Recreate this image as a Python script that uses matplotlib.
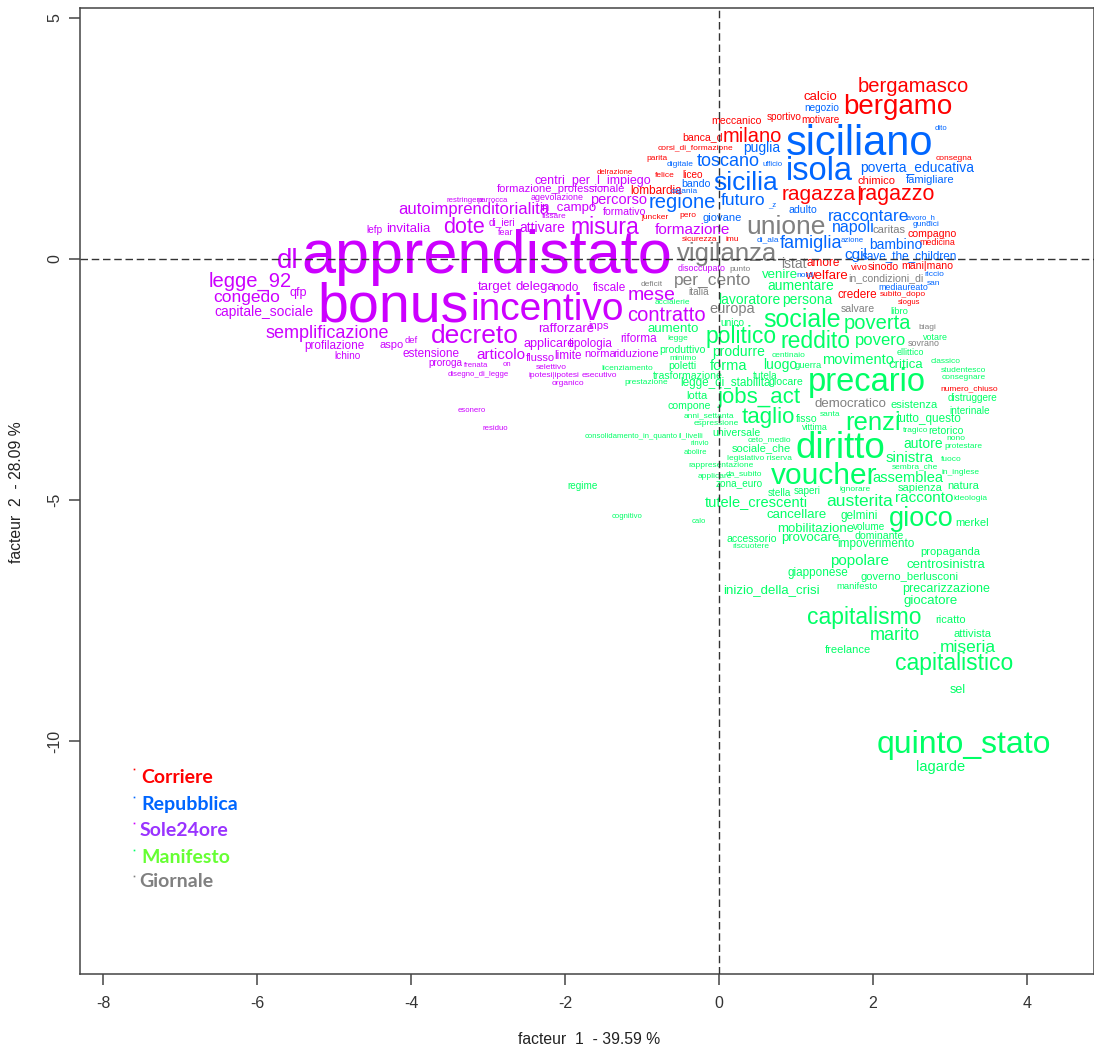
import matplotlib
matplotlib.use("Agg")
import matplotlib.pyplot as plt

plt.rcParams["font.family"] = ["Liberation Sans", "DejaVu Sans"]
plt.rcParams["axes.unicode_minus"] = False

# word, factor 1, factor 2, weight
corriere = [
    ("bergamasco", 2.52, 3.57, 14.5), ("bergamo", 2.32, 3.15, 20), ("calcio", 1.32, 3.36, 9.5),
    ("meccanico", 0.23, 2.86, 7.5), ("sportivo", 0.84, 2.95, 7), ("motivare", 1.32, 2.88, 7),
    ("banca_d", -0.21, 2.53, 7.5), ("milano", 0.43, 2.53, 14.5), ("corsi_di_formazione", -0.31, 2.30, 5.5),
    ("parita", -0.81, 2.07, 5.5), ("delrazione", -1.36, 1.78, 5), ("felice", -0.71, 1.72, 5.5),
    ("liceo", -0.34, 1.74, 7), ("lombardia", -0.82, 1.41, 8.5), ("juncker", -0.83, 0.85, 5.5),
    ("pero", -0.40, 0.89, 5.5), ("sicurezza", -0.25, 0.39, 5.5), ("imu", 0.17, 0.39, 5.5),
    ("consegna", 3.05, 2.07, 5.5), ("chimico", 2.05, 1.62, 8), ("ragazza", 1.29, 1.33, 15),
    ("|", 1.81, 1.31, 15), ("ragazzo", 2.31, 1.33, 15.5), ("compagno", 2.77, 0.52, 7.5),
    ("medicina", 2.83, 0.33, 6), ("amore", 1.35, -0.08, 8.5), ("welfare", 1.39, -0.35, 9.5),
    ("vivo", 1.82, -0.19, 6.5), ("sinodo", 2.13, -0.17, 7.5), ("mani|mano", 2.71, -0.15, 7.5),
    ("credere", 1.79, -0.75, 8.5), ("subito_dopo", 2.39, -0.75, 5.5), ("slogus", 2.47, -0.91, 5),
    ("numero_chiuso", 3.25, -2.70, 5.5),
]

repubblica = [
    ("siciliano", 1.83, 2.39, 30), ("isola", 1.30, 1.80, 23.5), ("sicilia", 0.34, 1.58, 19),
    ("toscano", 0.12, 2.01, 13), ("puglia", 0.56, 2.30, 10), ("ufficio", 0.70, 1.95, 5),
    ("digitale", -0.51, 1.95, 5.5), ("negozio", 1.34, 3.13, 7), ("dito", 2.88, 2.70, 5),
    ("poverta_educativa", 2.57, 1.89, 10), ("famigliare", 2.74, 1.64, 8), ("bando", -0.30, 1.56, 7.5),
    ("catania", -0.45, 1.39, 5.5), ("regione", -0.48, 1.16, 14.5), ("futuro", 0.31, 1.20, 12.5),
    ("_z", 0.69, 1.12, 5), ("giovane", 0.04, 0.85, 8), ("adulto", 1.09, 1.02, 7.5),
    ("raccontare", 1.94, 0.87, 12.3), ("napoli", 1.75, 0.64, 11.5), ("famiglia", 1.19, 0.31, 13),
    ("bambino", 2.29, 0.29, 10), ("azione", 1.73, 0.37, 5), ("di_ala", 0.64, 0.39, 5.5),
    ("lavoro_h", 2.62, 0.85, 5), ("gundici", 2.69, 0.71, 5.5), ("cgil", 1.78, 0.08, 11),
    ("save_the_children", 2.47, 0.06, 8.5), ("nord", 1.12, -0.35, 5.5), ("riccio", 2.79, -0.33, 5.5),
    ("san", 2.78, -0.52, 5.5), ("mediaureato", 2.40, -0.60, 6),
]

sole24ore = [
    ("apprendistato", -3.01, 0.02, 44), ("bonus", -4.23, -1.00, 40), ("incentivo", -2.23, -1.06, 28),
    ("dl", -5.60, -0.04, 20), ("decreto", -3.17, -1.60, 19), ("dote", -3.31, 0.64, 15.5),
    ("misura", -1.49, 0.64, 16.5), ("legge_92", -6.09, -0.46, 14.5), ("congedo", -6.13, -0.81, 12.5),
    ("capitale_sociale", -5.91, -1.10, 10), ("qfp", -5.47, -0.71, 9), ("semplificazione", -5.09, -1.54, 13),
    ("profilazione", -4.99, -1.80, 8.5), ("lchino", -4.83, -2.01, 7), ("aspo", -4.25, -1.78, 8),
    ("def", -4.00, -1.70, 6.5), ("estensione", -3.74, -1.97, 8.5), ("proroga", -3.55, -2.16, 7),
    ("frenata", -3.16, -2.22, 5), ("disegno_di_legge", -3.13, -2.39, 5), ("on", -2.75, -2.20, 5),
    ("articolo", -2.84, -1.99, 11), ("autoimprenditorialita", -3.19, 1.02, 12), ("invitalia", -4.04, 0.62, 9.5),
    ("lefp", -4.47, 0.60, 7), ("restringere", -3.29, 1.20, 5), ("parrocca", -2.94, 1.20, 5),
    ("centri_per_l_impiego", -1.64, 1.62, 9), ("formazione_professionale", -2.05, 1.45, 8),
    ("agevolazione", -2.10, 1.27, 6), ("percorso", -1.31, 1.22, 10.5), ("in_campo", -1.96, 1.06, 9.5),
    ("formativo", -1.23, 0.98, 7.5), ("fissare", -2.14, 0.87, 5.5), ("di_ieri", -2.82, 0.77, 7),
    ("fear", -2.77, 0.54, 6), ("attivare", -2.30, 0.64, 10), ("formazione", -0.34, 0.60, 11),
    ("target", -2.91, -0.58, 9.5), ("delega", -2.39, -0.58, 9.5), ("nodo", -1.99, -0.60, 8.5),
    ("fiscale", -1.42, -0.60, 8.5), ("mese", -0.88, -0.77, 14), ("contratto", -0.68, -1.18, 14.5),
    ("rafforzare", -1.99, -1.45, 9.5), ("inps", -1.56, -1.39, 8), ("applicare", -2.21, -1.76, 9),
    ("tipologia", -1.66, -1.76, 8.5), ("riforma", -1.05, -1.66, 8.5), ("flusso", -2.32, -2.05, 8),
    ("limite", -1.96, -2.01, 8.5), ("norma", -1.55, -1.97, 8), ("riduzione", -1.08, -1.97, 8),
    ("selettivo", -2.18, -2.26, 5.5), ("ipotesi|ipotesi", -2.14, -2.41, 5.5), ("esecutivo", -1.56, -2.43, 5.5),
    ("organico", -1.96, -2.59, 5.5), ("esonero", -3.21, -3.15, 5), ("residuo", -2.90, -3.51, 5),
    ("disoccupato", -0.23, -0.21, 6),
]

manifesto = [
    ("sociale", 1.08, -1.27, 18), ("poverta", 2.06, -1.35, 14.5), ("reddito", 1.25, -1.72, 16.5),
    ("povero", 2.10, -1.70, 12), ("politico", 0.29, -1.62, 16.5), ("lavoratore", 0.39, -0.85, 10),
    ("persona", 1.14, -0.85, 10), ("venire", 0.79, -0.33, 9.5), ("aumentare", 1.06, -0.56, 10),
    ("aumento", -0.60, -1.45, 9.5), ("acciaierie", -0.60, -0.91, 5.5), ("unico", 0.17, -1.33, 7),
    ("legge", -0.53, -1.66, 5.5), ("produttivo", -0.47, -1.89, 7.5), ("minimo", -0.47, -2.07, 5.5),
    ("produrre", 0.26, -1.93, 10), ("forma", 0.13, -2.22, 10.5), ("poletti", -0.48, -2.22, 7.5),
    ("movimento", 1.81, -2.10, 10.5), ("critica", 2.43, -2.20, 9.5), ("luogo", 0.79, -2.20, 10),
    ("guerra", 1.16, -2.22, 6.5), ("centinaio", 0.90, -2.01, 5.5), ("ellittico", 2.49, -1.95, 6),
    ("votare", 2.81, -1.64, 6), ("libro", 2.34, -1.10, 6.5), ("classico", 2.94, -2.14, 5.5),
    ("studentesco", 3.17, -2.32, 5.5), ("consegnare", 3.18, -2.47, 5.5), ("distruggere", 3.29, -2.88, 7),
    ("interinale", 3.25, -3.15, 7), ("precario", 1.92, -2.57, 23.5), ("jobs_act", 0.52, -2.88, 16),
    ("legge_di_stabilita", 0.09, -2.57, 8.5), ("tutela", 0.60, -2.43, 7), ("giocare", 0.87, -2.55, 7.5),
    ("trasformazione", -0.40, -2.43, 7.5), ("licenziamento", -1.19, -2.28, 5.5), ("prestazione", -0.95, -2.57, 5.5),
    ("lotta", -0.29, -2.84, 8), ("compone", -0.39, -3.05, 7.5), ("anni_settanta", -0.13, -3.26, 5.5),
    ("espressione", -0.04, -3.42, 5.5), ("universale", 0.23, -3.61, 7.5), ("taglio", 0.64, -3.30, 16),
    ("fisso", 1.14, -3.32, 7.5), ("santa", 1.44, -3.22, 5.5), ("vittima", 1.25, -3.49, 6),
    ("renzi", 2.00, -3.40, 18.5), ("esistenza", 2.53, -3.03, 8), ("tutto_questo", 2.73, -3.32, 8.5),
    ("tragico", 2.55, -3.57, 5.5), ("retorico", 2.95, -3.57, 7.5), ("nono", 3.08, -3.73, 5.5),
    ("protestare", 3.17, -3.90, 5.5), ("autore", 2.65, -3.84, 10), ("sinistra", 2.48, -4.13, 11),
    ("fuoco", 3.01, -4.17, 5.5), ("diritto", 1.57, -3.94, 26.5), ("ceto_medio", 0.65, -3.76, 5.5),
    ("sociale_che", 0.55, -3.92, 8), ("legislativo riserva", 0.53, -4.15, 5.5), ("rappresentazione", 0.03, -4.29, 5.5),
    ("applicare", -0.05, -4.52, 5.5), ("da_subito", 0.32, -4.46, 5.5), ("zona_euro", 0.26, -4.65, 7),
    ("stella", 0.78, -4.85, 7), ("saperi", 1.14, -4.81, 7), ("voucher", 1.36, -4.50, 21.5),
    ("assemblea", 2.45, -4.54, 10.5), ("sembra_che", 2.55, -4.32, 5.5), ("in_inglese", 3.14, -4.44, 5.5),
    ("natura", 3.17, -4.71, 8), ("sapienza", 2.61, -4.75, 8), ("ignorare", 1.77, -4.79, 5.5),
    ("austerita", 1.83, -5.04, 12.5), ("racconto", 2.66, -4.96, 11), ("ideologia", 3.27, -4.98, 5.5),
    ("tutele_crescenti", 0.49, -5.04, 10.5), ("cancellare", 1.01, -5.31, 9.5), ("gelmini", 1.82, -5.33, 8.5),
    ("gioco", 2.62, -5.39, 19.5), ("merkel", 3.29, -5.48, 8), ("mobilitazione", 1.25, -5.60, 9.5),
    ("volume", 1.95, -5.56, 7), ("dominante", 2.08, -5.75, 7.5), ("provocare", 1.18, -5.79, 9.5),
    ("accessorio", 0.43, -5.81, 7.5), ("riscuotere", 0.41, -5.97, 5.5), ("impoverimento", 2.04, -5.91, 8.5),
    ("calo", -0.26, -5.44, 5), ("rinvio", -0.25, -3.84, 5), ("abolire", -0.31, -4.02, 5),
    ("il_livelli", -0.36, -3.67, 5), ("consolidamento_in_quanto", -1.14, -3.69, 5), ("regime", -1.77, -4.71, 7),
    ("cognitivo", -1.19, -5.35, 5), ("propaganda", 3.00, -6.08, 8), ("popolare", 1.83, -6.27, 11),
    ("centrosinistra", 2.94, -6.35, 9.5), ("giapponese", 1.29, -6.51, 8.5), ("governo_berlusconi", 2.47, -6.60, 8),
    ("manifesto", 1.79, -6.80, 6.5), ("precarizzazione", 2.95, -6.85, 9), ("inizio_della_crisi", 0.68, -6.87, 9.5),
    ("giocatore", 2.75, -7.10, 9.5), ("capitalismo", 1.88, -7.43, 16.5), ("ricatto", 3.01, -7.49, 8),
    ("attivista", 3.29, -7.78, 8), ("marito", 2.29, -7.82, 13), ("miseria", 3.23, -8.05, 12.5),
    ("freelance", 1.68, -8.11, 8), ("capitalistico", 3.05, -8.40, 16.5), ("sel", 3.10, -8.94, 9),
    ("quinto_stato", 3.18, -10.08, 23), ("lagarde", 2.88, -10.54, 10.5),
]

giornale = [
    ("vigilanza", 0.10, 0.10, 18.5), ("unione", 0.87, 0.66, 19), ("per_cento", -0.09, -0.44, 12.5),
    ("europa", 0.17, -1.04, 10.5), ("italia", -0.27, -0.68, 7), ("deficit", -0.88, -0.54, 5.5),
    ("punto", 0.27, -0.23, 5.5), ("istat", 0.97, -0.10, 10), ("caritas", 2.21, 0.60, 8),
    ("in_condizioni_di", 2.17, -0.41, 7.5), ("salvare", 1.80, -1.04, 7.5), ("biagi", 2.70, -1.43, 5.5),
    ("sovrano", 2.66, -1.76, 6), ("democratico", 1.71, -3.01, 9.5),
]

sources = [corriere, repubblica, sole24ore, manifesto, giornale]
word_colors = ["#FF0000", "#0066FF", "#CC00FF", "#00FF66", "#808080"]

legend_names = ["Corriere", "Repubblica", "Sole24ore", "Manifesto", "Giornale"]
legend_colors = ["#FF0000", "#0066FF", "#9933FF", "#66FF33", "#808080"]
legend_dot_x = -7.6
legend_dot_y = [-10.58, -11.16, -11.70, -12.26, -12.80]
legend_text_x = [-7.50, -7.50, -7.52, -7.50, -7.53]
legend_text_y = [-10.75, -11.31, -11.85, -12.41, -12.92]

fig = plt.figure(figsize=(10.94, 10.5), dpi=100)
ax = fig.add_axes([80 / 1094, 1 - 974 / 1050, 1014 / 1094, 966 / 1050])

for words, color in zip(sources, word_colors):
    for word, x, y, weight in words:
        # the smallest words sit a bit wider in the original
        size = weight + max(0, 8 - weight) * 0.2
        ax.text(x, y, word, color=color, fontsize=size, ha="center", va="center", zorder=2)

ax.axhline(0, color="#333333", lw=1, dashes=(5.4, 2.7), zorder=3)
ax.axvline(0, color="#333333", lw=1, dashes=(5.4, 2.7), zorder=3)

for name, color, dot_color, dy, tx, ty in zip(legend_names, legend_colors, word_colors, legend_dot_y,
                                              legend_text_x, legend_text_y):
    ax.plot(legend_dot_x, dy, "s", color=dot_color, ms=1.2, mew=0)
    ax.text(tx, ty, name, color=color, fontsize=14, fontweight="bold", family="Lato", ha="left", va="center")

ax.set_xlim(-8.3, 4.87)
ax.set_ylim(-14.83, 5.2)
ax.set_xticks([-8, -6, -4, -2, 0, 2, 4])
ax.set_yticks([5, 0, -5, -10])
ax.tick_params(axis="x", labelsize=11.5, length=8, pad=8, width=1.1, color="#444444", labelcolor="#333333")
ax.tick_params(axis="y", labelsize=11.5, length=8, pad=5, width=1.1, color="#444444", labelcolor="#333333")
for lab in ax.get_yticklabels():
    lab.set_rotation(90)
    lab.set_va("center")
for s in ax.spines.values():
    s.set_linewidth(1.1)
    s.set_color("#444444")

fig.text(589 / 1094, 1 - 1040 / 1050, "facteur  1  - 39.59 %", fontsize=11.3, ha="center", va="center", color="#222222")
fig.text(17 / 1094, 1 - 492 / 1050, "facteur  2  - 28.09 %", fontsize=11.3, rotation=90, ha="center", va="center", color="#222222")

fig.savefig("out.png", dpi=100)
